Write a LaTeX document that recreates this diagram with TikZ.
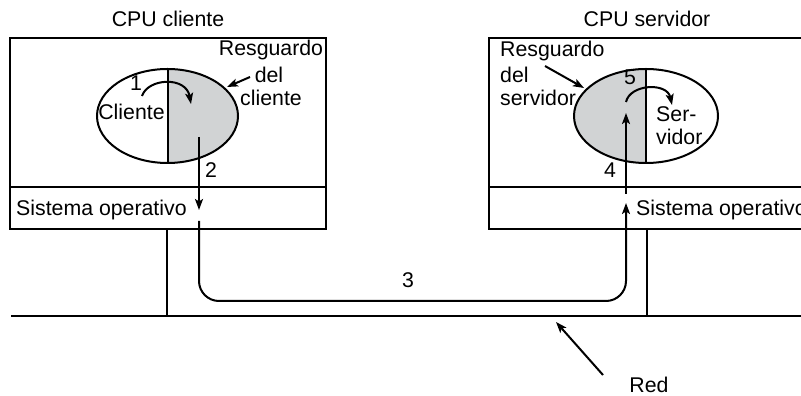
\documentclass[tikz,border=0pt]{standalone}
\usepackage{fontspec}
\setmainfont{Liberation Sans}
\usetikzlibrary{arrows.meta}
\definecolor{cgray}{HTML}{D1D3D4}
\begin{document}
\begin{tikzpicture}[x=1pt,y=1pt,
  lbl/.style={inner sep=0pt,font=\fontsize{21.3}{24}\selectfont},
  wire/.style={line width=1.8pt},
  frame/.style={line width=2pt},
  arr/.style={line width=2pt,-{Stealth[length=11pt,width=8pt,inset=2.5pt]}},
]
\useasboundingbox (0,0) rectangle (801,396);
\clip (0,0) rectangle (801,396);

% boxes
\draw[frame] (10,167) rectangle (326,358);
\draw[wire] (10,209) -- (326,209);
\draw[frame] (489,167) rectangle (830,358);
\draw[wire] (489,209) -- (830,209);

% network
\coordinate (netL) at (11,80);
\coordinate (netR) at (830,80);
\draw[wire] (netL) -- (netR);
\coordinate (stubL) at (167,167);
\coordinate (stubLb) at (167,80);
\coordinate (stubR) at (647,167);
\coordinate (stubRb) at (647,80);
\draw[wire] (stubL) -- (stubLb);
\draw[wire] (stubR) -- (stubRb);

% left ellipse
\fill[cgray] (167.5,327) arc[start angle=90,end angle=-90,x radius=70.5,y radius=47] -- cycle;
\draw[frame] (167.5,280) ellipse[x radius=70.5,y radius=47];
\draw[frame] (167.5,327) -- (167.5,233);

% right ellipse
\fill[cgray] (646,327) arc[start angle=90,end angle=270,x radius=72,y radius=47] -- cycle;
\draw[frame] (646,280) ellipse[x radius=72,y radius=47];
\draw[frame] (646,327) -- (646,233);

% texts
\node[lbl,anchor=base] (cpuc) at (168,369) {CPU cliente};
\node[lbl,anchor=base] (cpus) at (647,369) {CPU servidor};
\node[lbl,anchor=base west] (soL) at (16,180) {Sistema operativo};
\node[lbl,anchor=base west] (soR) at (636,180) {Sistema operativo};
\node[lbl,anchor=base] (cli) at (131.5,276) {Cliente};
\node[lbl,anchor=base] (n1) at (136,305) {1};
\node[lbl,anchor=base] (rc1) at (271,340) {Resguardo};
\node[lbl,anchor=base] (rc2) at (269,313) {del};
\node[lbl,anchor=base] (rc3) at (271,290) {cliente};
\node[lbl,anchor=base] (n2) at (211,218) {2};
\node[lbl,anchor=base] (n3) at (408,108) {3};
\node[lbl,anchor=base] (n4) at (610,218) {4};
\node[lbl,anchor=base] (n5) at (630,311) {5};
\node[lbl,anchor=base west] (sv1) at (656,274) {Ser-};
\node[lbl,anchor=base west] (sv2) at (656,251) {vidor};
\node[lbl,anchor=base west] (rs1) at (500,339) {Resguardo};
\node[lbl,anchor=base west] (rs2) at (500,313) {del};
\node[lbl,anchor=base west] (rs3) at (500,290) {servidor};
\node[lbl,anchor=base] (red) at (649,3) {Red};

% arrows
\coordinate (a1s) at (142,300);
\coordinate (a1e) at (191,292);
\draw[arr] (a1s) .. controls (148,318) and (186,320) .. (a1e);
\coordinate (a5s) at (626,294);
\coordinate (a5e) at (672,291);
\draw[arr] (a5s) .. controls (630,312) and (667,314) .. (a5e);

\coordinate (rcs) at (250,319);
\coordinate (rce) at (227,309);
\draw[arr] (rcs) -- (rce);
\coordinate (rss) at (545,330);
\coordinate (rse) at (584,308);
\draw[arr] (rss) -- (rse);

\coordinate (a2s) at (199,259);
\coordinate (a2e) at (199,186);
\draw[arr] (a2s) -- (a2e);
\coordinate (a3s) at (199,175);
\coordinate (a3e) at (626,193);
\draw[arr,rounded corners=20pt] (a3s) -- (199,95) -- (626,95) -- (a3e);
\coordinate (a4s) at (626,202);
\coordinate (a4e) at (626,283);
\draw[arr] (a4s) -- (a4e);

\coordinate (reds) at (603,21);
\coordinate (rede) at (556,74);
\draw[arr] (reds) -- (rede);
\end{tikzpicture}
\end{document}
